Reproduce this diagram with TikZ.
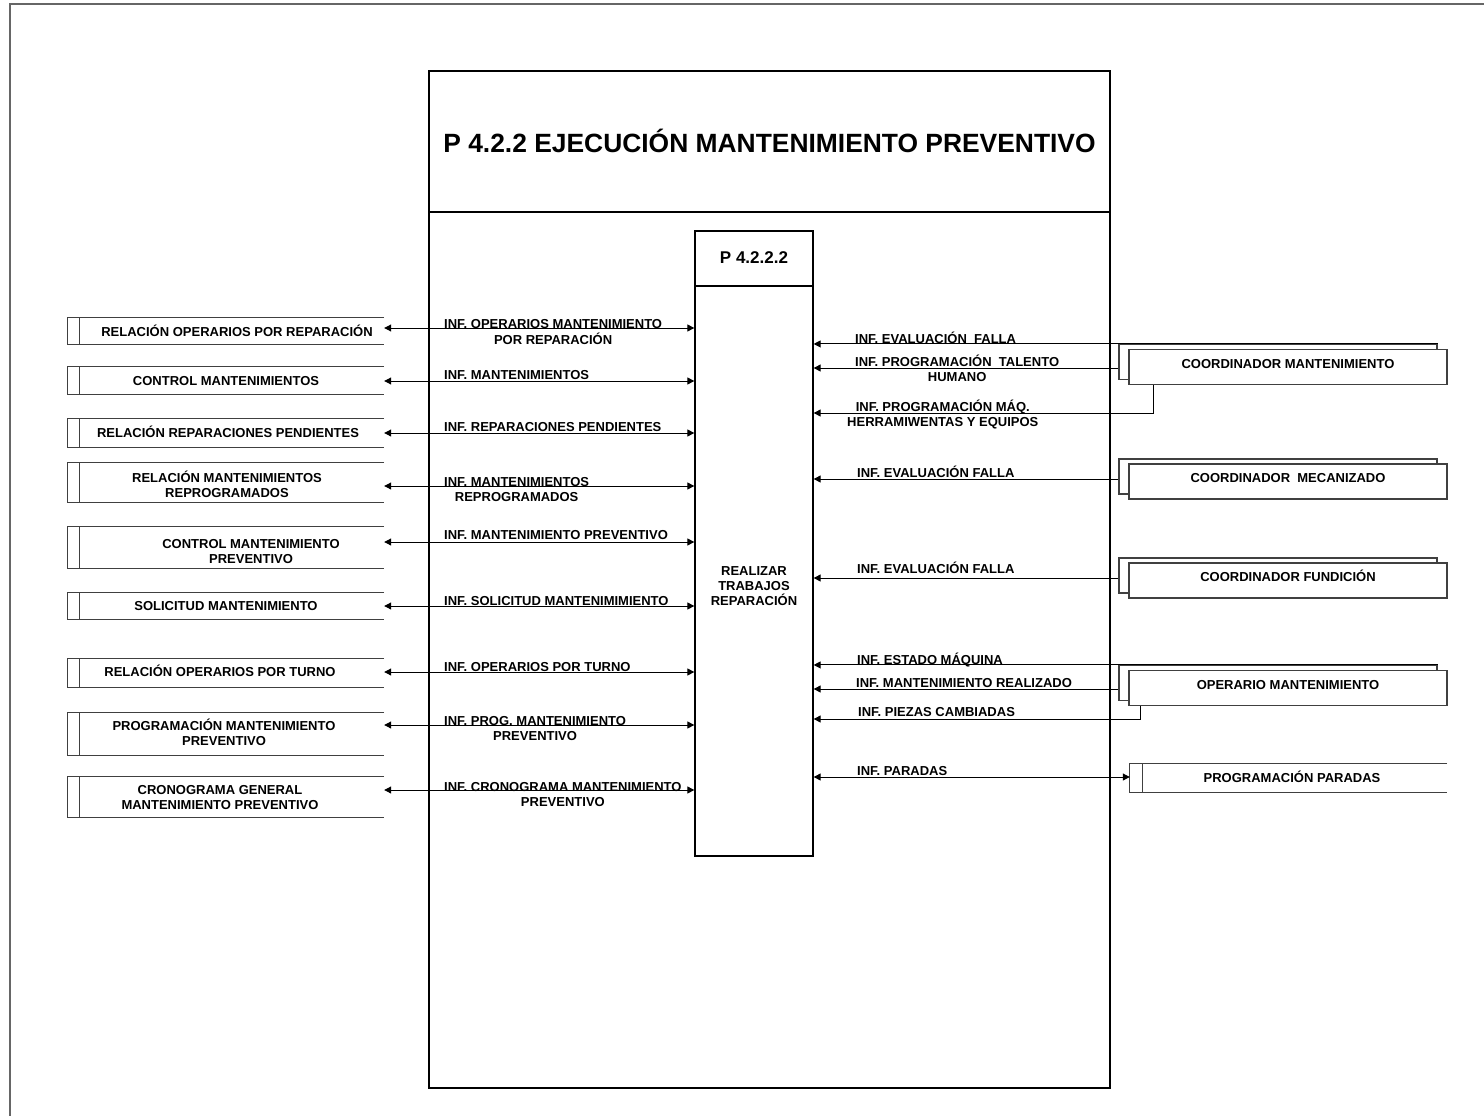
\documentclass[tikz,border=0pt]{standalone}
\usepackage{fontspec}
\setmainfont{Liberation Sans}
\usetikzlibrary{arrows.meta,fit}
\newcommand\mlines[1]{\begin{tabular}[t]{@{}c@{}}#1\end{tabular}}
\tikzset{
  lab/.style={inner sep=0pt, font=\fontsize{13}{15.5}\selectfont\bfseries, anchor=base west},
  stxt/.style={inner sep=0pt, font=\fontsize{13}{15.5}\selectfont\bfseries, anchor=base},
  tipA/.tip={Triangle[length=7pt,width=7pt]},
  flow/.style={line width=1pt, -tipA},
  bflow/.style={line width=1pt, tipA-tipA},
  storerect/.style={inner sep=0pt, draw=none},
  sline/.style={line width=1.1pt, draw=black!75},
  extback/.style={draw=black!75, line width=1.1pt, inner sep=0pt},
  extfront/.style={draw=black!75, line width=1.1pt, fill=white, inner sep=0pt},
}
\newcommand\dstore[5]{%
  \node[storerect, fit={(#2,#3) (#4,#5)}] (#1) {};
  \draw[sline] (#1.north east) -- (#1.north west) -- (#1.south west) -- (#1.south east);
  \draw[sline] ([xshift=12pt]#1.north west) -- ([xshift=12pt]#1.south west);
}
\newcommand\xent[4]{%
  \node[extback, fit={(#2,#3) (#2+318,#3+35)}] (#1b) {};
  \node[extfront, fit={(#2+10,#3+5) (#2+328,#3+40)}] (#1) {};
  \node[stxt] (#1t) at ([yshift=-1.2pt]#1.center) {#4};
}
\begin{document}
\begin{tikzpicture}[x=1pt,y=-1pt]
\useasboundingbox (0,0) rectangle (1484,1116);
% outer frame
\draw[black!60, line width=2pt] (10,1116) -- (10,4) -- (1484,4);
% main box
\node[draw, line width=2pt, minimum width=681pt, minimum height=1017pt, inner sep=0pt] (main) at (769.5,579.5) {};
\draw[line width=2pt] (main.west |- 0,212) -- (main.east |- 0,212);
\node[inner sep=0pt, font=\fontsize{26.4}{30}\selectfont\bfseries] (title) at (769.5,141) {P 4.2.2 EJECUCIÓN MANTENIMIENTO PREVENTIVO};
% process
\node[draw, line width=1.3pt, minimum width=118pt, minimum height=625pt, inner sep=0pt] (proc) at (754,543.5) {};
\draw[line width=1.3pt] (proc.west |- 0,286) -- (proc.east |- 0,286);
\node[inner sep=0pt, font=\fontsize{17}{20}\selectfont\bfseries] (pid) at (754,258) {P 4.2.2.2};
\node[inner sep=0pt, align=center, font=\fontsize{13}{15}\selectfont\bfseries] (pname) at (754,586) {REALIZAR\\TRABAJOS\\REPARACIÓN};
% left stores
\dstore{s1}{68}{318}{384}{344}
\dstore{s2}{68}{367}{384}{394}
\dstore{s3}{68}{419}{384}{447}
\dstore{s4}{68}{463}{384}{502}
\dstore{s5}{68}{527}{384}{568}
\dstore{s6}{68}{593}{384}{619}
\dstore{s7}{68}{659}{384}{687}
\dstore{s8}{68}{713}{384}{755}
\dstore{s9}{68}{777}{384}{817}
\node[stxt] (s1t) at (237,336) {RELACIÓN OPERARIOS POR REPARACIÓN};
\node[stxt] (s2t) at (226,385) {CONTROL MANTENIMIENTOS};
\node[stxt] (s3t) at (228,437) {RELACIÓN REPARACIONES PENDIENTES};
\node[stxt] (s4t) at (227,482) {\mlines{RELACIÓN MANTENIMIENTOS\\REPROGRAMADOS}};
\node[stxt] (s5t) at (251,548) {\mlines{CONTROL MANTENIMIENTO\\PREVENTIVO}};
\node[stxt] (s6t) at (226,610) {SOLICITUD MANTENIMIENTO};
\node[stxt] (s7t) at (220,676) {RELACIÓN OPERARIOS POR TURNO};
\node[stxt] (s8t) at (224,730) {\mlines{PROGRAMACIÓN MANTENIMIENTO\\PREVENTIVO}};
\node[stxt] (s9t) at (220,794) {\mlines{CRONOGRAMA GENERAL\\MANTENIMIENTO PREVENTIVO}};
% left flows
\draw[bflow] (s1.east |- 0,328) -- (proc.west |- 0,328);
\draw[bflow] (s2.east |- 0,381) -- (proc.west |- 0,381);
\draw[bflow] (s3.east |- 0,433) -- (proc.west |- 0,433);
\draw[bflow] (s4.east |- 0,486) -- (proc.west |- 0,486);
\draw[bflow] (s5.east |- 0,542) -- (proc.west |- 0,542);
\draw[bflow] (s6.east |- 0,606) -- (proc.west |- 0,606);
\draw[bflow] (s7.east |- 0,672) -- (proc.west |- 0,672);
\draw[bflow] (s8.east |- 0,725) -- (proc.west |- 0,725);
\draw[bflow] (s9.east |- 0,790) -- (proc.west |- 0,790);
\node[lab] (l1) at (444,328) {\mlines{INF. OPERARIOS MANTENIMIENTO\\POR REPARACIÓN}};
\node[lab] (l2) at (444,379) {INF. MANTENIMIENTOS};
\node[lab] (l3) at (444,431) {INF. REPARACIONES PENDIENTES};
\node[lab] (l4) at (444,486) {\mlines{INF. MANTENIMIENTOS\\REPROGRAMADOS}};
\node[lab] (l5) at (444,539) {INF. MANTENIMIENTO PREVENTIVO};
\node[lab] (l6) at (444,605) {INF. SOLICITUD MANTENIMIMIENTO};
\node[lab] (l7) at (444,671) {INF. OPERARIOS POR TURNO};
\node[lab] (l8) at (444,725) {\mlines{INF. PROG. MANTENIMIENTO\\PREVENTIVO}};
\node[lab] (l9) at (444,791) {\mlines{INF. CRONOGRAMA MANTENIMIENTO\\PREVENTIVO}};
% right external entities
\xent{cm}{1119}{344.5}{COORDINADOR MANTENIMIENTO}
\xent{mec}{1119}{459}{COORDINADOR\ \ MECANIZADO}
\xent{fun}{1119}{558}{COORDINADOR FUNDICIÓN}
\xent{op}{1119}{665.5}{OPERARIO MANTENIMIENTO}
% programación paradas store
\node[storerect, fit={(1130,764) (1447,792)}] (pp) {};
\draw[sline] (pp.north east) -- (pp.north west) -- (pp.south west) -- (pp.south east);
\draw[sline] ([xshift=13pt]pp.north west) -- ([xshift=13pt]pp.south west);
\node[stxt] (ppt) at (1292,782) {PROGRAMACIÓN PARADAS};
% right flows
\draw[flow] (cmb.north east) -- (cmb.north -| proc.east);
\draw[flow] (cmb.west |- 0,368) -- (proc.east |- 0,368);
\draw[flow] (cm.south -| 1153,0) -- (1153,413) -- (proc.east |- 0,413);
\draw[flow] (mecb.west |- 0,479) -- (proc.east |- 0,479);
\draw[flow] (funb.west |- 0,578) -- (proc.east |- 0,578);
\draw[flow] (opb.north east) -- (opb.north -| proc.east);
\draw[flow] (opb.west |- 0,689) -- (proc.east |- 0,689);
\draw[flow] (op.south -| 1140,0) -- (1140,719) -- (proc.east |- 0,719);
\draw[bflow] (proc.east |- 0,777) -- (pp.west |- 0,777);
\node[lab] (r1) at (855,343) {INF. EVALUACIÓN\ \ FALLA};
\node[lab] (r2) at (855,366) {\mlines{INF. PROGRAMACIÓN\ \ TALENTO\\HUMANO}};
\node[lab] (r3) at (847,411) {\mlines{INF. PROGRAMACIÓN MÁQ.\\HERRAMIWENTAS Y EQUIPOS}};
\node[lab] (r4) at (857,477) {INF. EVALUACIÓN FALLA};
\node[lab] (r5) at (857,573) {INF. EVALUACIÓN FALLA};
\node[lab] (r6) at (857,664) {INF. ESTADO MÁQUINA};
\node[lab] (r7) at (856,687) {INF. MANTENIMIENTO REALIZADO};
\node[lab] (r8) at (858,716) {INF. PIEZAS CAMBIADAS};
\node[lab] (r9) at (857,775) {INF. PARADAS};
\end{tikzpicture}
\end{document}
